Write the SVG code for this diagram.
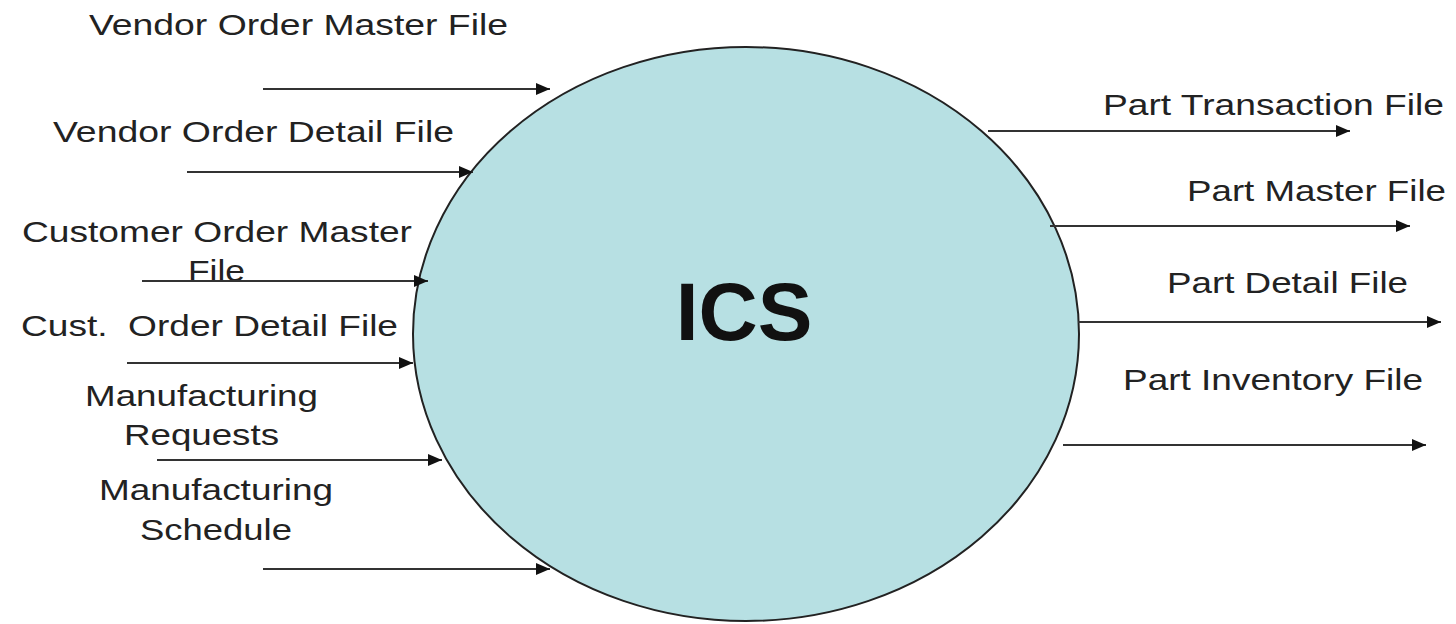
<svg xmlns="http://www.w3.org/2000/svg" width="1456" height="624" viewBox="0 0 1456 624">
<style>
.lbl{font-family:"Liberation Sans",Arial,sans-serif;font-size:29px;fill:#222}
.title{font-family:"Liberation Sans",Arial,sans-serif;font-size:82px;font-weight:bold;fill:#111;text-anchor:middle}
.flow{stroke:#333;stroke-width:2;fill:none;marker-end:url(#ah)}
</style>
<defs>
<marker id="ah" viewBox="0 0 14 12" refX="14" refY="6" markerWidth="14" markerHeight="12" markerUnits="userSpaceOnUse" orient="auto">
<path d="M0,0 L14,6 L0,12 Z" fill="#111"/>
</marker>
</defs>
<rect width="1456" height="624" fill="#fff"/>
<g id="ics">
<ellipse cx="746" cy="334" rx="333" ry="287" fill="#b7e0e3" stroke="#222" stroke-width="2"/>
<text class="title" x="744" y="340">ICS</text>
</g>
<g id="labels">
<text class="lbl" x="89" y="35" textLength="419" lengthAdjust="spacingAndGlyphs">Vendor Order Master File</text>
<text class="lbl" x="53" y="142" textLength="401" lengthAdjust="spacingAndGlyphs">Vendor Order Detail File</text>
<text class="lbl" x="22" y="242" textLength="390" lengthAdjust="spacingAndGlyphs">Customer Order Master</text>
<text class="lbl" x="188" y="281" textLength="57" lengthAdjust="spacingAndGlyphs">File</text>
<text class="lbl" x="21" y="336" textLength="377" lengthAdjust="spacingAndGlyphs" xml:space="preserve">Cust.  Order Detail File</text>
<text class="lbl" x="85" y="406" textLength="233" lengthAdjust="spacingAndGlyphs">Manufacturing</text>
<text class="lbl" x="124" y="445" textLength="155" lengthAdjust="spacingAndGlyphs">Requests</text>
<text class="lbl" x="99" y="500" textLength="234" lengthAdjust="spacingAndGlyphs">Manufacturing</text>
<text class="lbl" x="140" y="540" textLength="152" lengthAdjust="spacingAndGlyphs">Schedule</text>
<text class="lbl" x="1103" y="115" textLength="341" lengthAdjust="spacingAndGlyphs">Part Transaction File</text>
<text class="lbl" x="1187" y="201" textLength="259" lengthAdjust="spacingAndGlyphs">Part Master File</text>
<text class="lbl" x="1167" y="293" textLength="241" lengthAdjust="spacingAndGlyphs">Part Detail File</text>
<text class="lbl" x="1123" y="390" textLength="300" lengthAdjust="spacingAndGlyphs">Part Inventory File</text>
</g>
<g id="connectors">
<line class="flow" x1="263" y1="89" x2="550" y2="89"/>
<line class="flow" x1="187" y1="172" x2="473" y2="172"/>
<line class="flow" x1="142" y1="281" x2="428" y2="281"/>
<line class="flow" x1="127" y1="363" x2="413" y2="363"/>
<line class="flow" x1="157" y1="460" x2="442" y2="460"/>
<line class="flow" x1="263" y1="569" x2="550" y2="569"/>
<line class="flow" x1="988" y1="131" x2="1350" y2="131"/>
<line class="flow" x1="1050" y1="226" x2="1410" y2="226"/>
<line class="flow" x1="1078" y1="322" x2="1441" y2="322"/>
<line class="flow" x1="1063" y1="445" x2="1426" y2="445"/>
</g>
</svg>
